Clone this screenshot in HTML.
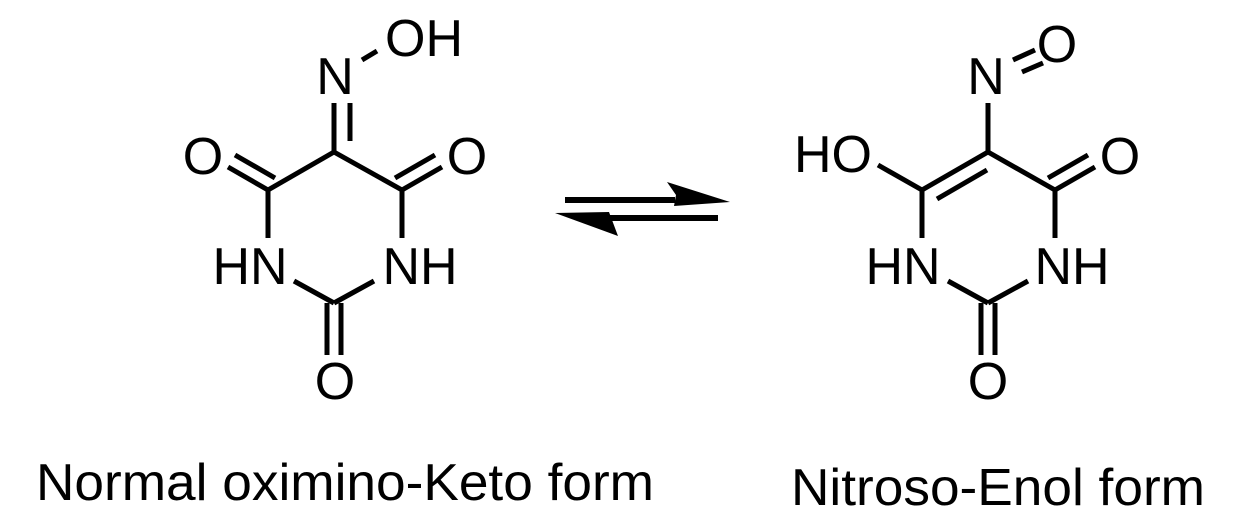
<!DOCTYPE html>
<html><head><meta charset="utf-8"><style>
html,body{margin:0;padding:0;background:#fff;}
svg{display:block;}
text{font-family:"Liberation Sans",Arial,sans-serif;fill:#000;}
</style></head><body>
<svg width="1248" height="530" viewBox="0 0 1248 530" xmlns="http://www.w3.org/2000/svg">
<g stroke="#000" stroke-width="5" fill="none" stroke-linecap="butt">
<!-- left molecule -->
<line x1="334" y1="152" x2="268" y2="190"/>
<line x1="334" y1="152" x2="402" y2="190"/>
<line x1="268" y1="188" x2="268" y2="238"/>
<line x1="402" y1="188" x2="402" y2="238"/>
<line x1="294" y1="281" x2="334" y2="303"/>
<line x1="374" y1="281" x2="334" y2="303"/>
<line x1="327" y1="303" x2="327" y2="355"/>
<line x1="341" y1="303" x2="341" y2="355"/>
<line x1="268" y1="190" x2="228" y2="167"/>
<line x1="275" y1="178" x2="235" y2="155"/>
<line x1="402" y1="190" x2="442" y2="167"/>
<line x1="395" y1="178" x2="435" y2="155"/>
<line x1="334" y1="152" x2="334" y2="103"/>
<line x1="350" y1="141" x2="350" y2="103"/>
<line x1="362" y1="60" x2="377" y2="51"/>
<!-- right molecule -->
<line x1="988" y1="152" x2="922" y2="190"/>
<line x1="988" y1="152" x2="1055" y2="190"/>
<line x1="937" y1="199" x2="987" y2="170"/>
<line x1="922" y1="188" x2="922" y2="238"/>
<line x1="1055" y1="188" x2="1055" y2="238"/>
<line x1="948" y1="281" x2="988" y2="303"/>
<line x1="1028" y1="281" x2="988" y2="303"/>
<line x1="981" y1="303" x2="981" y2="355"/>
<line x1="995" y1="303" x2="995" y2="355"/>
<line x1="878" y1="165" x2="922" y2="190"/>
<line x1="1055" y1="190" x2="1095" y2="167"/>
<line x1="1048" y1="178" x2="1088" y2="155"/>
<line x1="988" y1="152" x2="988" y2="103"/>
<line x1="1013" y1="60" x2="1035" y2="50"/>
<line x1="1022" y1="72" x2="1043" y2="63"/>
</g>
<!-- arrows -->
<rect x="565" y="197" width="110" height="6" fill="#000"/>
<polygon points="667,182 730,202 674,206 676,195" fill="#000"/>
<rect x="610" y="215" width="108" height="6" fill="#000"/>
<polygon points="555,213 609,212 618,236" fill="#000"/>
<g font-size="52" text-anchor="middle">
<text x="203" y="174">O</text>
<text x="467" y="174">O</text>
<text x="250" y="284">HN</text>
<text x="420" y="284">NH</text>
<text x="335" y="399">O</text>
<text x="335" y="94">N</text>
<text x="424" y="56">OH</text>
<text x="833" y="172">HO</text>
<text x="1120" y="174">O</text>
<text x="903" y="284">HN</text>
<text x="1072" y="284">NH</text>
<text x="988" y="399">O</text>
<text x="986" y="94">N</text>
<text x="1057" y="62">O</text>
</g>
<text x="36" y="500" font-size="52" textLength="618" lengthAdjust="spacingAndGlyphs">Normal oximino-Keto form</text>
<text x="791" y="505" font-size="52" textLength="414" lengthAdjust="spacingAndGlyphs">Nitroso-Enol form</text>
</svg>
</body></html>
